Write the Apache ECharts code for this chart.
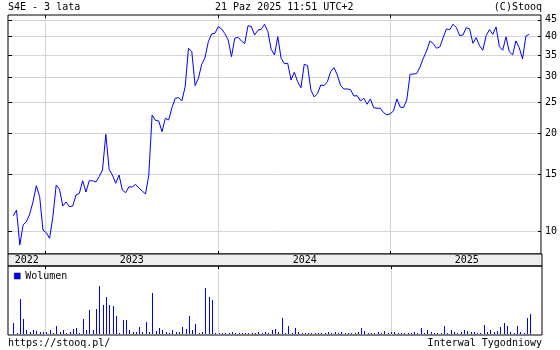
<!DOCTYPE html>
<html><head><meta charset="utf-8">
<script src="https://cdn.jsdelivr.net/npm/echarts@6/dist/echarts.min.js"></script>
<style>html,body{margin:0;padding:0;background:#fff}#c{width:560px;height:350px}</style>
</head><body><div id="c"></div>
<script>
// ---- data ----
const firstWeek = '2022-10-25';           // first weekly bar, then one every 7 days
const axisStart = '2022-10-14';
const axisEnd = '2025-11-15';
const yearStarts = ['2023-01-01', '2024-01-01', '2025-01-01'];
const priceTicks = [10, 15, 20, 25, 30, 35, 40, 45];
const priceMin = 8.49, priceMax = 46.6;
const price = [
  11.15, 11.61, 9.05, 10.44, 10.69, 11.29, 12.32, 13.81, 12.77, 10.07,
  9.88, 9.49, 11.07, 13.88, 13.46, 11.95, 12.30, 11.89, 11.95, 12.93,
  13.08, 14.31, 13.20, 14.31, 14.31, 14.18, 14.73, 15.45, 19.92, 15.52,
  14.90, 14.05, 14.90, 13.39, 13.14, 13.71, 13.68, 13.95, 13.59, 13.30,
  13.02, 14.90, 22.86, 22.01, 21.90, 20.30, 22.33, 22.06, 24.08, 25.75,
  25.86, 25.26, 27.97, 36.77, 35.89, 28.17, 29.69, 32.81, 34.39, 38.54,
  40.72, 40.92, 42.89, 42.20, 40.80, 39.02, 34.64, 39.49, 39.77, 38.74,
  38.00, 43.19, 42.89, 40.43, 41.81, 42.11, 43.64, 41.39, 36.51,
  35.06, 39.94, 34.24, 32.95, 33.04, 29.34, 30.99, 28.98, 27.77, 32.81,
  32.49, 27.32, 25.99, 26.61, 28.31, 28.17, 28.98, 31.13, 32.02, 30.40,
  28.17, 27.51, 27.51, 27.38, 26.17, 26.23, 25.26, 25.75, 24.67, 25.62,
  24.08, 23.98, 23.98, 23.24, 22.86, 23.07, 23.52, 25.62, 24.20, 24.08,
  25.44, 30.55, 30.62, 30.70, 32.18, 34.24, 36.07, 38.74, 38.00, 36.77,
  37.12, 39.66, 42.20, 41.99, 43.64, 42.59, 40.23, 40.43, 42.59, 42.20,
  38.11, 39.66, 37.46, 36.26, 40.23, 41.99, 40.63, 42.80, 37.19, 36.26,
  39.86, 35.89, 35.06, 38.74, 36.93, 34.07, 40.06, 40.63
];
const volume = [ // thousands of shares
  36, 6, 108, 48, 16, 8, 16, 12, 8, 10, 10, 16, 6, 26, 8, 16, 4, 10, 18, 22,
  4, 48, 14, 74, 16, 78, 146, 90, 114, 90, 88, 56, 6, 46, 44, 16, 8, 10, 24, 10,
  38, 10, 126, 12, 20, 16, 10, 6, 16, 8, 10, 24, 18, 56, 14, 32, 6, 8, 140, 114,
  104, 4, 4, 4, 6, 4, 10, 4, 6, 4, 4, 4, 4, 4, 10, 4, 8, 4, 16, 18, 10,
  50, 6, 26, 6, 22, 8, 6, 6, 4, 6, 4, 6, 6, 6, 8, 4, 8, 6, 8, 4,
  6, 6, 6, 8, 20, 12, 6, 6, 6, 8, 6, 12, 6, 8, 8, 6, 4, 4, 6, 6,
  8, 6, 20, 6, 16, 8, 4, 6, 4, 26, 6, 14, 8, 6, 8, 14, 12, 10, 8, 4,
  6, 30, 10, 16, 10, 12, 24, 36, 26, 8, 4, 26, 8, 4, 50, 62
];
const volumeMax = 207;
const titleText = 'S4E - 3 lata';
const dateText = '21 Paz 2025 11:51 UTC+2';
const copyText = '(C)Stooq';
const urlText = 'https://stooq.pl/';
const intervalText = 'Interwal Tygodniowy';
const volumeName = 'Wolumen';

// ---- build ----
const DAY = 86400000;
const ts = s => Date.parse(s + 'T00:00:00Z');
const t0 = ts(firstWeek);
const xMin = ts(axisStart), xMax = ts(axisEnd);
const yearTs = yearStarts.map(ts);
const bounds = [xMin].concat(yearTs, [xMax]);
const yearMids = [];
for (let i = 0; i < bounds.length - 1; i++) yearMids.push((bounds[i] + bounds[i + 1]) / 2);
const priceData = price.map((v, i) => [t0 + i * 7 * DAY, v]);
const volData = volume.map((v, i) => [t0 + i * 7 * DAY, v]);

const FONT = 'DejaVu Sans Mono';
const GRIDC = '#d4d4d4';
const BLUE = '#0000ff';
const txt = (text, pos) => Object.assign({text, padding: 0,
  textStyle: {fontSize: 10, fontWeight: 'normal', color: '#000', fontFamily: FONT}}, pos);

const chart = echarts.init(document.getElementById('c'), null, {renderer: 'canvas'});
chart.setOption({
  animation: false,
  backgroundColor: '#fff',
  textStyle: {fontFamily: FONT},
  title: [
    txt(titleText, {left: 8, top: 2}),
    txt(dateText, {left: 215, top: 2}),
    txt(copyText, {right: 18, top: 2}),
    txt(urlText, {left: 8, top: 338}),
    txt(intervalText, {right: 18, top: 338})
  ],
  legend: {
    data: [{name: volumeName, itemStyle: {color: BLUE, borderColor: '#000033', borderWidth: 0.5}}],
    left: 14, top: 271, padding: 0, icon: 'rect',
    itemWidth: 6, itemHeight: 6, itemGap: 5, selectedMode: false,
    textStyle: {fontSize: 10, color: '#000', fontFamily: FONT, padding: [0, 0, 0, 0]}
  },
  grid: [
    {left: 8, right: 18, top: 15, height: 239, show: true, borderColor: '#000', borderWidth: 1, backgroundColor: 'transparent'},
    {left: 8, right: 18, top: 254, height: 12, show: true, borderColor: '#000', borderWidth: 1, backgroundColor: '#eeeeee'},
    {left: 8, right: 18, top: 266, height: 69, show: true, borderColor: '#000', borderWidth: 1, backgroundColor: 'transparent'}
  ],
  xAxis: [
    {gridIndex: 0, type: 'value', min: xMin, max: xMax, position: 'bottom',
     axisLine: {show: false}, axisLabel: {show: false},
     axisTick: {show: true, inside: true, length: 3, customValues: yearTs, lineStyle: {color: '#000'}},
     splitLine: {show: true, lineStyle: {color: GRIDC, width: 1}}},
    {gridIndex: 0, type: 'value', min: xMin, max: xMax, position: 'top',
     axisLine: {show: false}, axisLabel: {show: false},
     axisTick: {show: true, inside: true, length: 3, customValues: yearTs, lineStyle: {color: '#000'}},
     splitLine: {show: false}},
    {gridIndex: 1, type: 'value', min: xMin, max: xMax, position: 'bottom',
     axisLine: {show: false}, axisTick: {show: false},
     axisLabel: {show: true, inside: true, margin: 1, customValues: yearMids, fontSize: 10, color: '#000',
       fontFamily: FONT, formatter: v => String(new Date(v).getUTCFullYear())},
     splitLine: {show: false}},
    {gridIndex: 2, type: 'value', min: xMin, max: xMax, position: 'bottom',
     axisLine: {show: false}, axisLabel: {show: false},
     axisTick: {show: false, customValues: yearTs},
     splitLine: {show: true, lineStyle: {color: GRIDC, width: 1}}},
    {gridIndex: 2, type: 'value', min: xMin, max: xMax, position: 'top',
     axisLine: {show: false}, axisLabel: {show: false},
     axisTick: {show: true, inside: true, length: 3, customValues: yearTs, lineStyle: {color: '#000'}},
     splitLine: {show: false}}
  ],
  yAxis: [
    {gridIndex: 0, type: 'log', logBase: 10, min: priceMin, max: priceMax, position: 'right',
     axisLine: {show: false},
     axisTick: {show: true, inside: true, length: 3, customValues: priceTicks, lineStyle: {color: '#000'}},
     axisLabel: {show: true, customValues: priceTicks, margin: 4, fontSize: 10, color: '#000', fontFamily: FONT},
     splitLine: {show: true, lineStyle: {color: GRIDC, width: 1}}},
    {gridIndex: 0, type: 'log', logBase: 10, min: priceMin, max: priceMax, position: 'left',
     axisLine: {show: false}, axisLabel: {show: false},
     axisTick: {show: true, inside: true, length: 4, customValues: priceTicks, lineStyle: {color: '#000'}},
     splitLine: {show: false}},
    {gridIndex: 2, type: 'value', min: 0, max: volumeMax, show: false, splitLine: {show: false}},
    {gridIndex: 1, type: 'value', min: 0, max: 1, show: false, splitLine: {show: false}}
  ],
  series: [
    {type: 'line', name: 'S4E', xAxisIndex: 0, yAxisIndex: 0, data: priceData,
     showSymbol: false, symbol: 'none', silent: true,
     lineStyle: {color: BLUE, width: 1}, itemStyle: {color: BLUE}},
    {type: 'custom', name: volumeName, xAxisIndex: 3, yAxisIndex: 2, data: volData, silent: true,
     itemStyle: {color: BLUE},
     encode: {x: 0, y: 1},
     renderItem: (params, api) => {
       const top = api.coord([api.value(0), api.value(1)]);
       const base = api.coord([api.value(0), 0]);
       const x = Math.round(top[0]);
       const bottom = Math.round(base[1]) - 1;
       const y = Math.min(Math.round(top[1]), bottom - 1);
       return {type: 'rect', shape: {x: x, y: y, width: 1, height: bottom - y},
               style: {fill: BLUE}};
     }}
  ]
});
</script></body></html>
